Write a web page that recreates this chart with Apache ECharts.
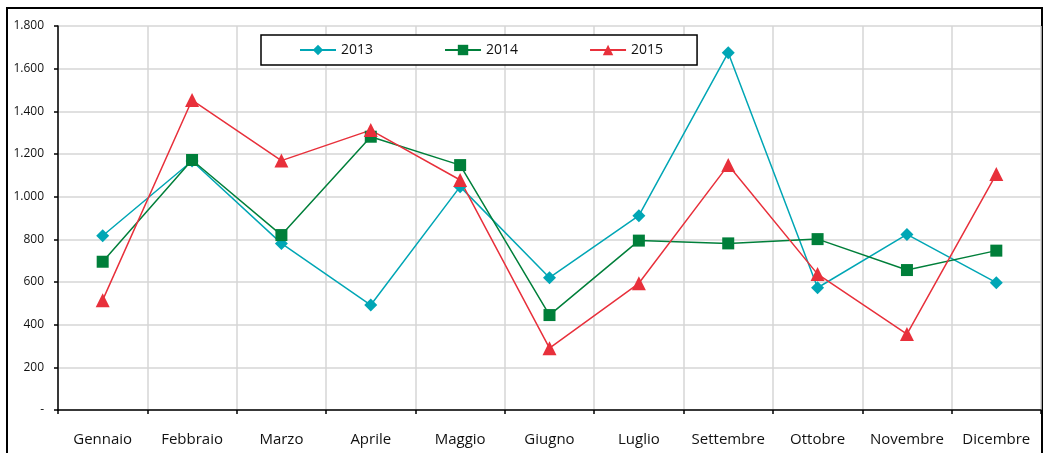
<!DOCTYPE html>
<html>
<head>
<meta charset="utf-8">
<script src="https://cdn.jsdelivr.net/npm/echarts@6/dist/echarts.min.js"></script>
<style>
  html, body { margin: 0; padding: 0; background: #fff; }
  #chart { width: 1046px; height: 453px; }
</style>
</head>
<body>
<div id="chart"></div>
<script>
// mesi
const months = ['Gennaio', 'Febbraio', 'Marzo', 'Aprile', 'Maggio', 'Giugno', 'Luglio', 'Settembre', 'Ottobre', 'Novembre', 'Dicembre']

// valori
const values2013 = [817, 1167, 781, 492, 1047, 620, 911, 1675, 573, 823, 597]
const values2014 = [695, 1172, 820, 1281, 1148, 445, 794, 781, 801, 656, 747]
const values2015 = [515, 1453, 1169, 1312, 1078, 290, 594, 1148, 637, 356, 1106]

const yTicks = { min: 0, max: 1800, interval: 200 }

const FONT = '"Open Sans", sans-serif'

const chart = echarts.init(document.getElementById('chart'))

const mkSeries = (name, data, color, symbol, size) => ({
  name,
  type: 'line',
  data,
  symbol,
  symbolSize: size,
  lineStyle: { color, width: 1.5 },
  itemStyle: { color },
  emphasis: { disabled: true }
})

chart.setOption({
  animation: false,
  textStyle: { fontFamily: FONT },
  graphic: [{
    type: 'rect',
    shape: { x: 7, y: 8, width: 1035, height: 470 },
    style: { fill: 'none', stroke: '#000', lineWidth: 2 },
    z: -1
  }],
  legend: {
    left: 261,
    top: 35,
    padding: [8, 34, 8, 38],
    itemGap: 71,
    itemWidth: 36,
    itemHeight: 13,
    borderColor: '#000',
    borderWidth: 1.5,
    backgroundColor: '#fff',
    textStyle: { fontFamily: FONT, fontSize: 14, color: '#111' },
    data: ['2013', '2014', '2015']
  },
  grid: { left: 58, right: 5, top: 26, bottom: 43 },
  xAxis: {
    type: 'category',
    data: months,
    boundaryGap: true,
    axisLine: { lineStyle: { color: '#000', width: 1.5 } },
    axisTick: { show: true, length: 4, alignWithLabel: false, lineStyle: { color: '#000', width: 1.5 } },
    axisLabel: { margin: 22, fontSize: 15, color: '#111', fontFamily: FONT, interval: 0 },
    splitLine: { show: true, lineStyle: { color: '#d6d6d6', width: 1.5 } }
  },
  yAxis: {
    type: 'value',
    min: yTicks.min,
    max: yTicks.max,
    interval: yTicks.interval,
    axisLine: { show: true, lineStyle: { color: '#000', width: 1.5 } },
    axisTick: { show: true, length: 4, lineStyle: { color: '#000', width: 1.5 } },
    axisLabel: {
      margin: 14,
      fontSize: 12,
      color: '#111',
      fontFamily: FONT,
      formatter: v => v === 0 ? '-' : String(v).replace(/\B(?=(\d{3})+(?!\d))/g, '.')
    },
    splitLine: { show: true, lineStyle: { color: '#d6d6d6', width: 1.5 } }
  },
  series: [
    mkSeries('2013', values2013, '#00a6b5', 'diamond', 13),
    mkSeries('2014', values2014, '#007f3a', 'rect', 12),
    mkSeries('2015', values2015, '#e8303b', 'triangle', 14)
  ]
})
</script>
</body>
</html>
